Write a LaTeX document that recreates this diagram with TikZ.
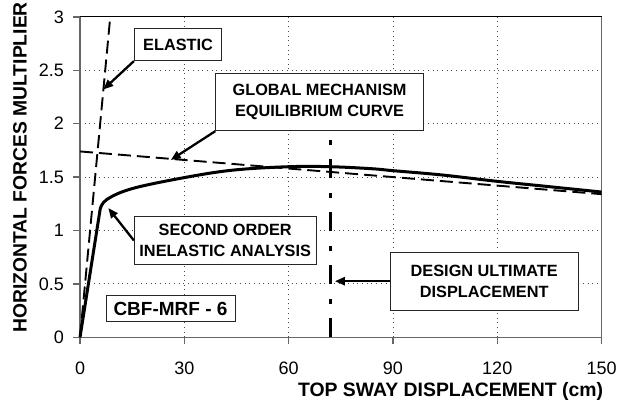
\documentclass[tikz,border=0pt]{standalone}
\usepackage{fontspec}
\setmainfont{Liberation Sans}
\usetikzlibrary{arrows.meta}
\tikzset{
	labelbox/.style={draw=black!85, line width=0.9pt, fill=white, inner sep=0pt, align=center,
		font=\fontsize{16.3}{21}\bfseries\selectfont},
	pointer/.style={line width=2.3pt, -{Triangle[length=10pt,width=8pt]}},
	gridline/.style={black!70, line width=0.8pt, dash pattern=on 0.9pt off 3.8pt},
	axisline/.style={black!60, line width=1.4pt},
	ticklabel/.style={inner sep=0pt, font=\fontsize{18}{18}\selectfont},
	guide/.style={line width=1.9pt, dash pattern=on 13pt off 6pt},
	ultimate/.style={line width=2.8pt, dash pattern=on 19pt off 14.5pt on 5pt off 14.5pt},
	response/.style={line width=3pt, line join=round}
}
\begin{document}
\begin{tikzpicture}[x=3.477pt, y=106.8pt]
	\useasboundingbox (-23.01,-0.634) rectangle (154.73,3.158);
	% grid
	\draw[gridline] (0,0.5) -- (150,0.5) (0,1) -- (150,1) (0,1.5) -- (150,1.5)
		(0,2) -- (150,2) (0,2.5) -- (150,2.5);
	\draw[gridline] (30,0) -- (30,3) (60,0) -- (60,3) (90,0) -- (90,3) (120,0) -- (120,3);
	% frame and ticks
	\draw[black, line width=0.9pt] (0,3) -- (150,3);
	\draw[axisline] (150,3) -- (150,0);
	\draw[axisline] (0,3) -- (0,0) -- (150,0);
	\draw[axisline] (-2,0) -- (0,0) (-2,0.5) -- (0,0.5) (-2,1) -- (0,1) (-2,1.5) -- (0,1.5)
		(-2,2) -- (0,2) (-2,2.5) -- (0,2.5) (-2,3) -- (0,3);
	\draw[axisline] (0,0) -- (0,-0.066) (30,0) -- (30,-0.066) (60,0) -- (60,-0.066)
		(90,0) -- (90,-0.066) (120,0) -- (120,-0.066) (150,0) -- (150,-0.066);
	\node (y0) at (-4.6,0) [ticklabel, anchor=east] {0};
	\node (y05) at (-4.6,0.5) [ticklabel, anchor=east] {0.5};
	\node (y1) at (-4.6,1) [ticklabel, anchor=east] {1};
	\node (y15) at (-4.6,1.5) [ticklabel, anchor=east] {1.5};
	\node (y2) at (-4.6,2) [ticklabel, anchor=east] {2};
	\node (y25) at (-4.6,2.5) [ticklabel, anchor=east] {2.5};
	\node (y3) at (-4.6,3) [ticklabel, anchor=east] {3};
	\node (x0) at (0,-0.353) [ticklabel, anchor=base] {0};
	\node (x30) at (30,-0.353) [ticklabel, anchor=base] {30};
	\node (x60) at (60,-0.353) [ticklabel, anchor=base] {60};
	\node (x90) at (90,-0.353) [ticklabel, anchor=base] {90};
	\node (x120) at (120,-0.353) [ticklabel, anchor=base] {120};
	\node (x150) at (150,-0.353) [ticklabel, anchor=base] {150};
	\node (xtitle) at (150.5,-0.559) [anchor=base east, inner sep=0pt,
		font=\fontsize{19.4}{19}\bfseries\selectfont] {TOP SWAY DISPLACEMENT (cm)};
	\node (ytitle) at (-17.26,1.59) [rotate=90, inner sep=0pt,
		font=\fontsize{19.3}{19}\bfseries\selectfont] {HORIZONTAL FORCES MULTIPLIER};
	% curves
	\draw[guide] (0,0) -- (8.7,3);
	\draw[guide] (0,1.74) -- (150,1.34);
	\draw[ultimate] (72,0) -- (72,1.85);
	\draw[response] (0,0) -- (5.8,1.2) plot[smooth, tension=0.6] coordinates {(5.8,1.2) (7.7,1.29)
		(15,1.392) (30,1.495) (44,1.565) (60,1.597) (72,1.597) (84,1.578) (90,1.56)
		(104,1.52) (120,1.46) (135,1.41) (150,1.36)};
	% labels
	\node (elastic) at (28.2,2.742) [labelbox, minimum width=87.4pt, minimum height=32.4pt] {ELASTIC};
	\node (global) at (68.9,2.203) [labelbox, minimum width=207.6pt, minimum height=57.4pt]
		{GLOBAL MECHANISM\\EQUILIBRIUM CURVE};
	\node (second) at (41.76,0.906) [labelbox, minimum width=181.7pt, minimum height=47.6pt]
		{SECOND ORDER\\INELASTIC ANALYSIS};
	\node (design) at (116.25,0.525) [labelbox, minimum width=188.3pt, minimum height=57.7pt]
		{DESIGN ULTIMATE\\DISPLACEMENT};
	\node (frame) at (26.03,0.268) [labelbox, minimum width=129pt, minimum height=26pt,
		font=\fontsize{19}{19}\bfseries\selectfont] {CBF-MRF - 6};
	\coordinate (elastictip) at (6.7,2.32);
	\coordinate (globaltip) at (26.1,1.66);
	\coordinate (secondtip) at (8.14,1.21);
	\coordinate (designtip) at (73.3,0.525);
	\draw[pointer] (elastic.south west) -- (elastictip);
	\draw[pointer] (global.south west) -- (globaltip);
	\draw[pointer] (second.west) -- (secondtip);
	\draw[pointer] (design.west) -- (designtip);
\end{tikzpicture}
\end{document}
